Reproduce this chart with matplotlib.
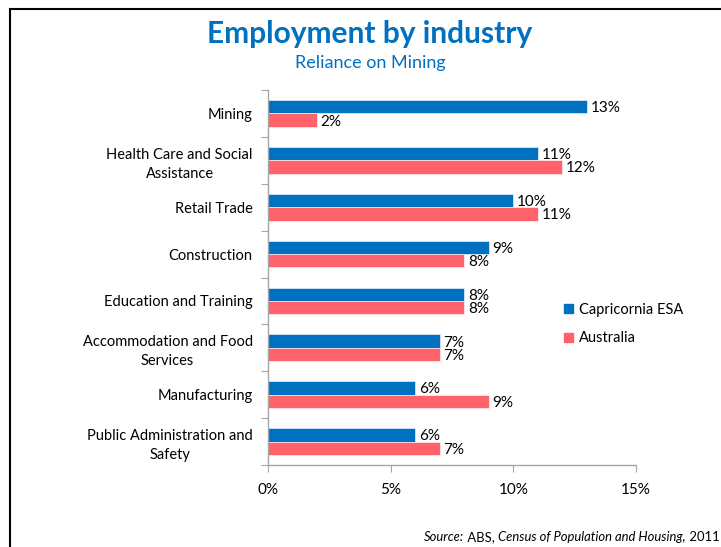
import matplotlib.pyplot as plt
import numpy as np
from matplotlib.lines import Line2D
from matplotlib.patches import Patch

industries = [
    "Mining",
    "Health Care and Social\nAssistance",
    "Retail Trade",
    "Construction",
    "Education and Training",
    "Accommodation and Food\nServices",
    "Manufacturing",
    "Public Administration and\nSafety",
]
capricornia = [13, 11, 10, 9, 8, 7, 6, 6]
australia = [2, 12, 11, 8, 8, 7, 9, 7]

BLUE = "#0070C0"
RED = "#FF626A"
AXIS = "#A6A6A6"
TITLE = "#0070C0"

plt.rcParams["font.family"] = ["Lato", "DejaVu Sans"]

fig = plt.figure(figsize=(7.21, 5.47), dpi=100)
ax = fig.add_axes([268 / 721, 82 / 547, 368 / 721, 375 / 547])

y = np.arange(len(industries))
h = 0.285
ax.barh(y - h / 2, capricornia, height=h, color=BLUE, edgecolor="white", linewidth=0.4)
ax.barh(y + h / 2, australia, height=h, color=RED, edgecolor="white", linewidth=0.4)

for i, (c, a) in enumerate(zip(capricornia, australia)):
    ax.text(c + 0.15, i - h / 2 + 0.03, f"{c}%", va="center", ha="left", fontsize=11)
    ax.text(a + 0.15, i + h / 2 + 0.03, f"{a}%", va="center", ha="left", fontsize=11)

ax.set_xlim(0, 15)
ax.set_ylim(len(industries) - 0.5, -0.5)
ax.set_xticks([0, 5, 10, 15])
ax.set_xticklabels(["0%", "5%", "10%", "15%"], fontsize=11)

# category ticks sit on the group boundaries, labels at the centres
ax.set_yticks(np.arange(len(industries) + 1) - 0.5)
ax.set_yticklabels([])
ax.set_yticks(y, minor=True)
ax.set_yticklabels(industries, minor=True, fontsize=10.5)
ax.tick_params(axis="y", which="minor", length=0, pad=11)
ax.tick_params(axis="y", which="major", length=5, color=AXIS, direction="out")
ax.tick_params(axis="x", length=5, color=AXIS, direction="out", pad=8)
for lbl in ax.get_yticklabels(minor=True):
    lbl.set_multialignment("center")
    lbl.set_linespacing(1.45)

for side in ["top", "right"]:
    ax.spines[side].set_visible(False)
for side in ["left", "bottom"]:
    ax.spines[side].set_color(AXIS)
    ax.spines[side].set_linewidth(1.0)

handles = [Patch(color=BLUE, label="Capricornia ESA"), Patch(color=RED, label="Australia")]
fig.legend(handles=handles, loc="center left", bbox_to_anchor=(551 / 721, 1 - 324 / 547),
           frameon=False, fontsize=10.5, handlelength=0.6, handleheight=0.6,
           handletextpad=0.4, labelspacing=1.0)

fig.text(370 / 721, 1 - 34 / 547, "Employment by industry", ha="center", va="center",
         fontsize=21.5, fontweight="bold", color=TITLE)
fig.text(370 / 721, 1 - 63 / 547, "Reliance on Mining", ha="center", va="center",
         fontsize=13, color=TITLE)

# source line: italic and upright pieces, each one anchored to the end of the last
pieces = [("Source:", "italic"), (" ABS, ", "normal"),
          ("Census of Population and Housing,", "italic"), (" 2011", "normal")]
prev = fig.text(424 / 721, 1 - 543 / 547, pieces[0][0], fontstyle=pieces[0][1],
                fontsize=9.4, ha="left", va="bottom")
for txt, style in pieces[1:]:
    prev = ax.annotate(txt, xy=(1, 0), xycoords=prev, fontstyle=style, fontsize=9.4,
                       ha="left", va="bottom", annotation_clip=False)

# slide frame on the left and top
frame_y = 1 - 9 / 547
frame_x = 10 / 721
fig.add_artist(Line2D([frame_x, frame_x], [0, frame_y], color="black", linewidth=1.5,
                      transform=fig.transFigure))
fig.add_artist(Line2D([frame_x, 1], [frame_y, frame_y], color="black", linewidth=1.5,
                      transform=fig.transFigure))

fig.savefig("out.png", dpi=100)
